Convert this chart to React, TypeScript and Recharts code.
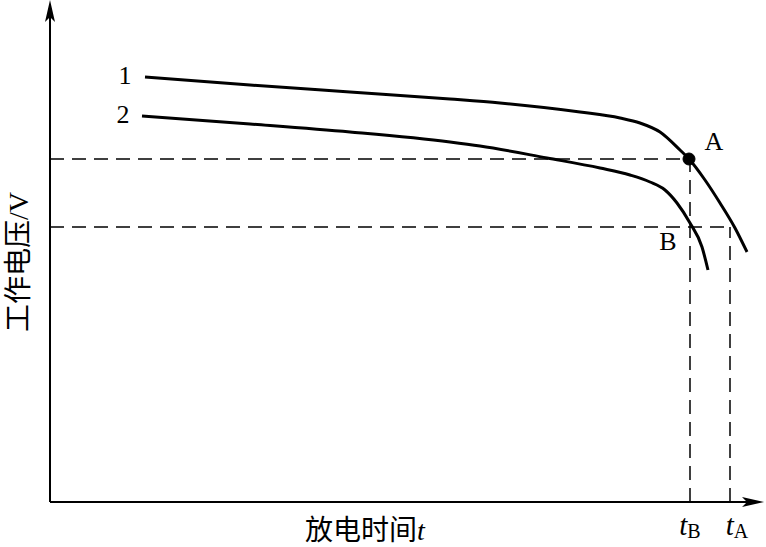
import React from 'react';
import { ComposedChart, Line, XAxis, YAxis, ReferenceLine, ReferenceDot } from 'recharts';

// discharge time (chart units) and working voltage for each curve
const curve1T = [95, 200, 300, 400, 450, 530, 570, 590, 610, 630, 639, 655, 670, 685, 697];
const curve1V = [425, 417, 410, 403, 399, 390, 384, 379, 370, 352, 343, 322, 299, 274, 250];
const curve2T = [92, 200, 300, 400, 430, 497, 550, 580, 600, 615, 627, 640, 652, 658];
const curve2V = [386, 378, 370, 360, 356, 344, 334, 327, 320, 312, 299, 279, 255, 232];

const pointA = { t: 639, v: 343 };
const pointB = { t: 680, v: 275 };
const tB = 640;
const tA = 680;
const axisMaxT = 714;
const axisMaxV = 502;

const curve1 = curve1T.map((t, i) => ({ t, v: curve1V[i] }));
const curve2 = curve2T.map((t, i) => ({ t, v: curve2V[i] }));

const FONT = "'Liberation Serif', 'Noto Sans CJK SC', serif";

const textShape = (content: React.ReactNode, extra: any = {}) => (props: any) => (
    <text x={props.cx} y={props.cy} textAnchor="middle" dominantBaseline="central"
        fontFamily={FONT} fontSize={26} fill="#000" {...extra}>
        {content}
    </text>
);

const arrowUp = (props: any) => (
    <polygon points={`${props.cx},${props.cy} ${props.cx - 5},${props.cy + 22} ${props.cx},${props.cy + 17} ${props.cx + 5},${props.cy + 22}`} fill="#000" />
);
const arrowRight = (props: any) => (
    <polygon points={`${props.cx},${props.cy} ${props.cx - 22},${props.cy - 5} ${props.cx - 17},${props.cy} ${props.cx - 22},${props.cy + 5}`} fill="#000" />
);

const subLabel = (sub: string) => (
    <>
        <tspan fontStyle="italic" fontSize={29}>t</tspan>
        <tspan fontSize={20} dy={6}>{sub}</tspan>
    </>
);

export default function App() {
    const dash = "14 8";
    return (
        <div style={{ position: 'absolute', left: 0, top: 0, background: '#fff' }}>
            <ComposedChart width={766} height={547} margin={{ top: 0, right: 0, left: 50, bottom: 45 }}>
                <XAxis type="number" dataKey="t" domain={[0, 716]} hide allowDataOverflow />
                <YAxis type="number" dataKey="v" domain={[0, 502]} hide allowDataOverflow />

                {/* axes */}
                <ReferenceLine segment={[{ x: 0, y: 0 }, { x: 0, y: axisMaxV - 8 }]} stroke="#000" strokeWidth={2} ifOverflow="visible" />
                <ReferenceLine segment={[{ x: 0, y: 0 }, { x: axisMaxT - 8, y: 0 }]} stroke="#000" strokeWidth={2} ifOverflow="visible" />
                <ReferenceDot x={0} y={axisMaxV} shape={arrowUp} ifOverflow="visible" />
                <ReferenceDot x={axisMaxT} y={0} shape={arrowRight} ifOverflow="visible" />

                {/* dashed guides */}
                <ReferenceLine segment={[{ x: 0, y: pointA.v }, { x: pointA.t, y: pointA.v }]} stroke="#000" strokeWidth={1.5} strokeDasharray={dash} />
                <ReferenceLine segment={[{ x: 0, y: pointB.v }, { x: pointB.t, y: pointB.v }]} stroke="#000" strokeWidth={1.5} strokeDasharray={dash} />
                <ReferenceLine segment={[{ x: tB, y: 0 }, { x: tB, y: pointA.v }]} stroke="#000" strokeWidth={1.5} strokeDasharray={dash} />
                <ReferenceLine segment={[{ x: tA, y: 0 }, { x: tA, y: pointB.v }]} stroke="#000" strokeWidth={1.5} strokeDasharray={dash} />

                <Line data={curve1} dataKey="v" type="monotone" stroke="#000" strokeWidth={3} dot={false} isAnimationActive={false} />
                <Line data={curve2} dataKey="v" type="monotone" stroke="#000" strokeWidth={3} dot={false} isAnimationActive={false} />

                <ReferenceDot x={pointA.t} y={pointA.v} r={6} fill="#000" stroke="#000" />

                {/* labels */}
                <ReferenceDot x={75} y={427} shape={textShape('1')} ifOverflow="visible" />
                <ReferenceDot x={73} y={388} shape={textShape('2')} ifOverflow="visible" />
                <ReferenceDot x={664} y={361} shape={textShape('A')} ifOverflow="visible" />
                <ReferenceDot x={618} y={261} shape={textShape('B')} ifOverflow="visible" />
                <ReferenceDot x={tB} y={-23} shape={textShape(subLabel('B'))} ifOverflow="visible" />
                <ReferenceDot x={tA + 7} y={-23} shape={textShape(subLabel('A'))} ifOverflow="visible" />
                <ReferenceDot x={315} y={-28} shape={textShape(<>放电时间<tspan fontStyle="italic">t</tspan></>, { fontSize: 28 })} ifOverflow="visible" />
                <ReferenceDot x={-32} y={240} shape={(p: any) => (
                    <text x={p.cx} y={p.cy} textAnchor="middle" dominantBaseline="central" fontFamily={FONT} fontSize={28}
                        fill="#000" transform={`rotate(-90, ${p.cx}, ${p.cy})`}>工作电压/V</text>
                )} ifOverflow="visible" />
            </ComposedChart>
        </div>
    );
}
